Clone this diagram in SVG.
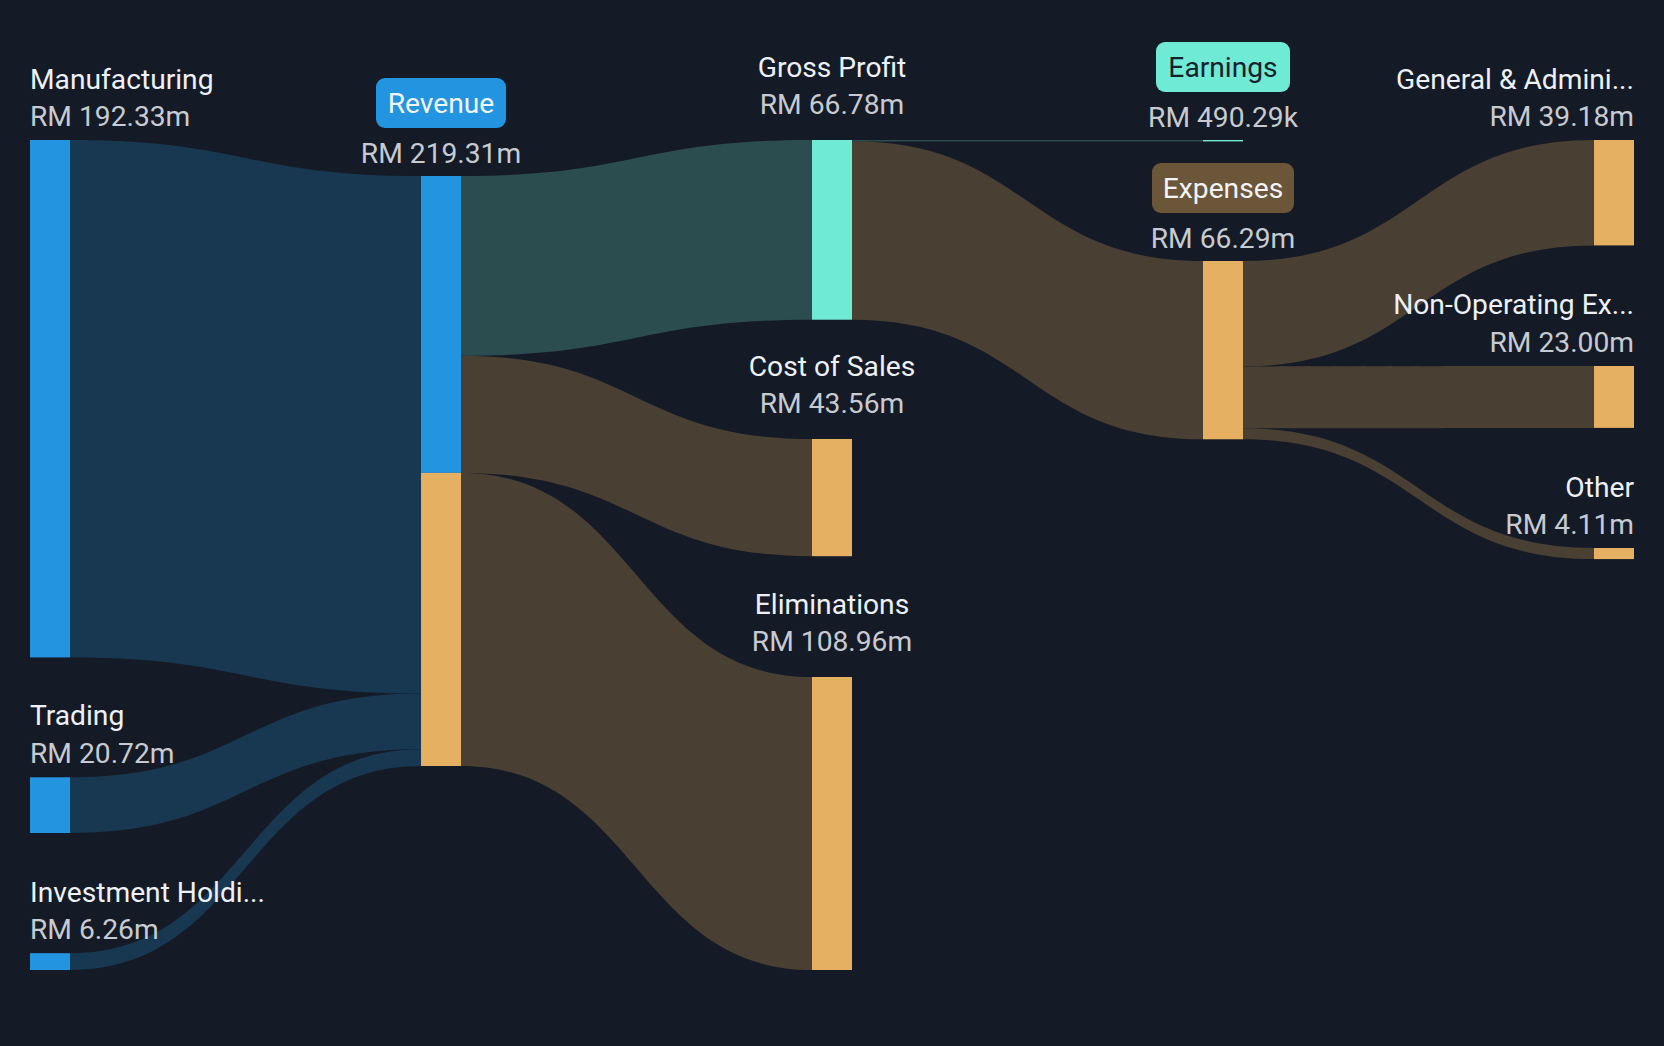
<svg xmlns="http://www.w3.org/2000/svg" width="1664" height="1046" viewBox="0 0 1664 1046">
  <style>
    .lbl { font-family: Roboto, "Liberation Sans", sans-serif; font-size: 28.2px; fill: #edf1f7; }
    .val { font-family: Roboto, "Liberation Sans", sans-serif; font-size: 28.2px; fill: #c7cbd1; }
    .mid { text-anchor: middle; }
    .end { text-anchor: end; }
    .nb { fill: #2394e0; }
    .no { fill: #e5b061; }
    .nt { fill: #6feAd5; }
    .lb { fill: #183751; }
    .lo { fill: #4a3f33; }
    .lt { fill: #2c4d50; }
  </style>
  <rect width="1664" height="1046" fill="#151b26"/>

  <g id="connectors">
    <path class="lb" d="M70,140 C245.5,140 245.5,176 421,176 L421,693.4 C245.5,693.4 245.5,657.4 70,657.4 Z"/>
    <path class="lb" d="M70,777.3 C245.5,777.3 245.5,693.4 421,693.4 L421,749.2 C245.5,749.2 245.5,833 70,833 Z"/>
    <path class="lb" d="M70,953.2 C245.5,953.2 245.5,749.2 421,749.2 L421,766 C245.5,766 245.5,970 70,970 Z"/>
    <path class="lt" d="M461,176 C636.5,176 636.5,140 812,140 L812,319.7 C636.5,319.7 636.5,355.7 461,355.7 Z"/>
    <path class="lo" d="M461,355.7 C636.5,355.7 636.5,439 812,439 L812,556.2 C636.5,556.2 636.5,472.9 461,472.9 Z"/>
    <path class="lo" d="M461,472.9 C636.5,472.9 636.5,677 812,677 L812,970 C636.5,970 636.5,766 461,766 Z"/>
    <path class="lt" d="M852,140 L1203,140 L1203,141.4 L852,141.4 Z"/>
    <path class="lo" d="M852,141.3 C1027.5,141.3 1027.5,261 1203,261 L1203,439.3 C1027.5,439.3 1027.5,319.7 852,319.7 Z"/>
    <path class="lo" d="M1243,261 C1418.5,261 1418.5,140 1594,140 L1594,245.4 C1418.5,245.4 1418.5,366.4 1243,366.4 Z"/>
    <path class="lo" d="M1243,366.4 C1418.5,366.4 1418.5,366 1594,366 L1594,427.9 C1418.5,427.9 1418.5,428.3 1243,428.3 Z"/>
    <path class="lo" d="M1243,428.3 C1418.5,428.3 1418.5,548 1594,548 L1594,559.1 C1418.5,559.1 1418.5,439.3 1243,439.3 Z"/>
  </g>

  <g id="node-manufacturing">
    <rect class="nb" x="30" y="140" width="40" height="517.4"/>
    <text class="lbl" x="30" y="88.5">Manufacturing</text>
    <text class="val" x="30" y="125.5">RM 192.33m</text>
  </g>
  <g id="node-trading">
    <rect class="nb" x="30" y="777.3" width="40" height="55.7"/>
    <text class="lbl" x="30" y="725">Trading</text>
    <text class="val" x="30" y="762.5">RM 20.72m</text>
  </g>
  <g id="node-investment">
    <rect class="nb" x="30" y="953.2" width="40" height="16.8"/>
    <text class="lbl" x="30" y="901.5">Investment Holdi...</text>
    <text class="val" x="30" y="939">RM 6.26m</text>
  </g>
  <g id="node-revenue">
    <rect class="nb" x="421" y="176" width="40" height="296.9"/>
    <rect class="no" x="421" y="472.9" width="40" height="293.1"/>
    <rect x="376" y="78" width="130" height="50" rx="9" fill="#2394e0"/>
    <text class="lbl mid" x="441" y="113" style="fill:#f2f6fb">Revenue</text>
    <text class="val mid" x="441" y="162.5">RM 219.31m</text>
  </g>
  <g id="node-gross-profit">
    <rect class="nt" x="812" y="140" width="40" height="179.7"/>
    <text class="lbl mid" x="832" y="76.5">Gross Profit</text>
    <text class="val mid" x="832" y="114">RM 66.78m</text>
  </g>
  <g id="node-cost-of-sales">
    <rect class="no" x="812" y="439" width="40" height="117.2"/>
    <text class="lbl mid" x="832" y="375.5">Cost of Sales</text>
    <text class="val mid" x="832" y="413">RM 43.56m</text>
  </g>
  <g id="node-eliminations">
    <rect class="no" x="812" y="677" width="40" height="293"/>
    <text class="lbl mid" x="832" y="613.5">Eliminations</text>
    <text class="val mid" x="832" y="651">RM 108.96m</text>
  </g>
  <g id="node-earnings">
    <rect class="nt" x="1203" y="140" width="40" height="1.4"/>
    <rect x="1156" y="42" width="134" height="50" rx="9" fill="#6feAd5"/>
    <text class="lbl mid" x="1223" y="77" style="fill:#16212b">Earnings</text>
    <text class="val mid" x="1223" y="126.5">RM 490.29k</text>
  </g>
  <g id="node-expenses">
    <rect class="no" x="1203" y="261" width="40" height="178.3"/>
    <rect x="1152" y="163" width="142" height="50" rx="9" fill="#6b563a"/>
    <text class="lbl mid" x="1223" y="197.5" style="fill:#f2f4f7">Expenses</text>
    <text class="val mid" x="1223" y="247.5">RM 66.29m</text>
  </g>
  <g id="node-general-admin">
    <rect class="no" x="1594" y="140" width="40" height="105.4"/>
    <text class="lbl end" x="1634" y="88.5">General &amp; Admini...</text>
    <text class="val end" x="1634" y="125.5">RM 39.18m</text>
  </g>
  <g id="node-non-operating">
    <rect class="no" x="1594" y="366" width="40" height="61.9"/>
    <text class="lbl end" x="1634" y="314">Non-Operating Ex...</text>
    <text class="val end" x="1634" y="351.5">RM 23.00m</text>
  </g>
  <g id="node-other">
    <rect class="no" x="1594" y="548" width="40" height="11.1"/>
    <text class="lbl end" x="1634" y="496.5">Other</text>
    <text class="val end" x="1634" y="533.5">RM 4.11m</text>
  </g>
</svg>
